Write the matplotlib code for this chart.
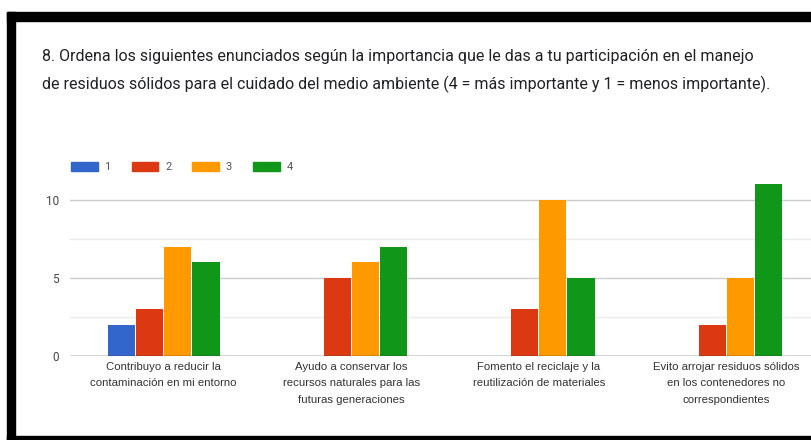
import matplotlib.pyplot as plt
from matplotlib.patches import Rectangle, Patch
import numpy as np

plt.rcParams['font.family'] = ['Roboto', 'DejaVu Sans']

title_lines = [
    "8. Ordena los siguientes enunciados según la importancia que le das a tu participación en el manejo",
    "de residuos sólidos para el cuidado del medio ambiente (4 = más importante y 1 = menos importante).",
]
categories = [
    "Contribuyo a reducir la\ncontaminación en mi entorno",
    "Ayudo a conservar los\nrecursos naturales para las\nfuturas generaciones",
    "Fomento el reciclaje y la\nreutilización de materiales",
    "Evito arrojar residuos sólidos\nen los contenedores no\ncorrespondientes",
]
series_names = ["1", "2", "3", "4"]
values_1 = [2, 0, 0, 0]
values_2 = [3, 5, 3, 2]
values_3 = [7, 6, 10, 5]
values_4 = [6, 7, 5, 11]
colors = ["#3366cc", "#dc3912", "#ff9900", "#109618"]

W, H = 812, 440
fig = plt.figure(figsize=(W / 100, H / 100), dpi=100)

# black frame of the screenshot
fig.patches.append(Rectangle((7 / W, 0), 8 / W, 1 - 12 / H, transform=fig.transFigure, color="black"))
fig.patches.append(Rectangle((7 / W, 1 - 21 / H), 1, 9 / H, transform=fig.transFigure, color="black"))
fig.patches.append(Rectangle((7 / W, 0), 1, 4 / H, transform=fig.transFigure, color="black"))

for line, ypx in zip(title_lines, [57, 84]):
    fig.text(42 / W, 1 - ypx / H, line, fontsize=11.5, color="#202124", va="center", ha="left")

# axes: y=0 at 356 px, 15.6 px per unit
ax = fig.add_axes([70 / W, (H - 356) / H, (W - 70) / W, 12 * 15.6 / H])
x = np.arange(len(categories))
bw = 0.15
all_vals = [values_1, values_2, values_3, values_4]
for i, (vals, c, name) in enumerate(zip(all_vals, colors, series_names)):
    ax.bar(x + (i - 1.5) * bw, vals, bw * 0.97, color=c, label=name, zorder=3)

ax.set_xlim(-0.5, -0.5 + (W - 70) / 187.5)
ax.set_ylim(0, 12)
for s in ax.spines.values():
    s.set_visible(False)
for v in [2.5, 7.5]:
    ax.axhline(v, color="#ebebeb", lw=1, zorder=1)
for v in [5, 10]:
    ax.axhline(v, color="#cccccc", lw=1, zorder=1)
ax.axhline(0, color="#333333", lw=1, zorder=4)

ax.set_yticks([0, 5, 10])
ax.set_yticklabels(["0", "5", "10"], fontsize=8.5, color="#444444")
ax.tick_params(axis="y", length=0, pad=8)
ax.set_xticks(x)
ax.set_xticklabels(categories, fontsize=8.2, color="#333333", linespacing=1.85,
                   family=["Liberation Sans", "DejaVu Sans"])
ax.tick_params(axis="x", length=0, pad=4)

handles = [Patch(color=c, label=n) for c, n in zip(colors, series_names)]
fig.legend(handles=handles, loc="center left", bbox_to_anchor=(71 / W, 1 - 167 / H),
           ncol=4, frameon=False, fontsize=8, handlelength=2.4, handleheight=0.9,
           handletextpad=0.6, columnspacing=1.9, borderpad=0, borderaxespad=0,
           labelcolor="#555555")

fig.savefig("out.png", dpi=100)
